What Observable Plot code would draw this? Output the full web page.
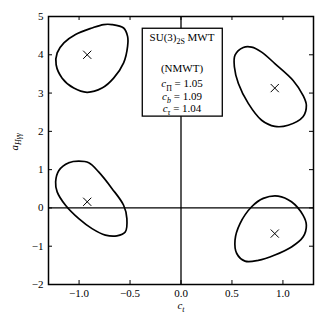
<!DOCTYPE html>
<html><head><meta charset="utf-8">
<script src="https://cdn.jsdelivr.net/npm/d3@7"></script>
<script src="https://cdn.jsdelivr.net/npm/@observablehq/plot@0.6"></script>
<style>body{margin:0;background:#fff}</style>
</head><body><div id="chart"></div>
<script>
// ---- data ----
const xTicks = [-1.0, -0.5, 0.0, 0.5, 1.0];
const yTicks = [-2, -1, 0, 1, 2, 3, 4, 5];
const contourTL = [[-0.678,4.79],[-0.563,4.70],[-0.524,4.48],[-0.524,4.22],[-0.563,3.79],[-0.661,3.39],[-0.775,3.13],[-0.922,3.02],[-1.052,3.13],[-1.166,3.39],[-1.225,3.74],[-1.215,4.05],[-1.149,4.31],[-1.035,4.53],[-0.873,4.70],[-0.759,4.79]];
const contourTR = [[0.611,4.19],[0.530,3.99],[0.524,3.68],[0.563,3.25],[0.660,2.73],[0.791,2.29],[0.921,2.13],[1.051,2.16],[1.197,2.38],[1.230,2.68],[1.197,2.94],[1.100,3.33],[0.921,3.77],[0.791,4.07],[0.693,4.20]];
const contourBL = [[-1.003,1.22],[-1.10,1.18],[-1.198,0.98],[-1.23,0.68],[-1.215,0.42],[-1.133,0.07],[-1.003,-0.28],[-0.873,-0.54],[-0.742,-0.71],[-0.629,-0.73],[-0.547,-0.63],[-0.531,-0.28],[-0.563,0.07],[-0.678,0.51],[-0.808,0.94],[-0.905,1.18]];
const contourBR = [[0.953,0.31],[1.084,0.16],[1.197,-0.19],[1.230,-0.45],[1.197,-0.76],[1.084,-1.02],[0.921,-1.23],[0.758,-1.37],[0.628,-1.39],[0.547,-1.19],[0.530,-0.84],[0.579,-0.41],[0.693,0.03],[0.807,0.25]];
const bestFit = [[-0.92,4.0],[0.92,3.13],[-0.92,0.16],[0.92,-0.67]];
const legendLines = ["SU(3)_{2S} MWT", "(NMWT)", "*c*_{Π} = 1.05", "*c*_{*b*} = 1.09", "*c*_{*τ*} = 1.04"];
const xLabel = "*c*_{*t*}";
const yLabel = "*a*_{*Hγγ*}";

// ---- layout ----
const W = 325, H = 325, mL = 48, mR = 12, mT = 16, mB = 41;
const frameW = W - mL - mR, frameH = H - mT - mB, tickLen = 4;
const legendBox = {x1: -0.375, x2: 0.41, y1: 2.385, y2: 4.68};
const legendX = 0.01;
const legendYs = [4.46, 3.63, 3.24, 2.92, 2.60];

const contours = [contourTL, contourTR, contourBL, contourBR]
  .flatMap((c, k) => c.map(([x, y]) => ({x, y, k})));
const fmt = (d, n) => d.toFixed(n).replace("-", "\u2212");

const chart = Plot.plot({
  width: W, height: H,
  marginLeft: mL, marginRight: mR, marginTop: mT, marginBottom: mB,
  style: {fontFamily: "'Liberation Serif', serif", fontSize: "11px", background: "#fff", color: "#000"},
  x: {domain: [-1.3, 1.3]},
  y: {domain: [-2, 5]},
  marks: [
    Plot.axisX(xTicks, {tickSize: 0, tickPadding: 5, tickFormat: d => fmt(d, 1), label: null, fontSize: 11}),
    Plot.axisY(yTicks, {tickSize: 0, tickPadding: 5, tickFormat: d => fmt(d, 0), label: null, fontSize: 11}),
    Plot.tickX(xTicks, {x: d => d, insetTop: frameH - tickLen, stroke: "#000", strokeWidth: 1}),
    Plot.tickX(xTicks, {x: d => d, insetBottom: frameH - tickLen, stroke: "#000", strokeWidth: 1}),
    Plot.tickY(yTicks, {y: d => d, insetRight: frameW - tickLen, stroke: "#000", strokeWidth: 1}),
    Plot.tickY(yTicks, {y: d => d, insetLeft: frameW - tickLen, stroke: "#000", strokeWidth: 1}),
    Plot.ruleX([0], {stroke: "#000", strokeWidth: 1.3}),
    Plot.ruleY([0], {stroke: "#000", strokeWidth: 1.3}),
    Plot.line(contours, {x: "x", y: "y", z: "k", curve: "catmull-rom-closed", stroke: "#000", strokeWidth: 1.7}),
    Plot.dot(bestFit, {x: d => d[0], y: d => d[1], symbol: "times", r: 3.8, stroke: "#000", strokeWidth: 1}),
    Plot.rect([legendBox], {x1: "x1", x2: "x2", y1: "y1", y2: "y2", fill: "#fff", stroke: "#000", strokeWidth: 1.3}),
    Plot.text(legendLines, {x: () => legendX, y: (d, i) => legendYs[i], text: d => d, fontSize: 11, fill: "#000", className: "rich"}),
    Plot.text([xLabel], {frameAnchor: "bottom", dy: 24, text: d => d, fontSize: 11, fill: "#000", className: "rich"}),
    Plot.text([yLabel], {frameAnchor: "left", dx: -34, rotate: -90, text: d => d, fontSize: 11, fill: "#000", className: "rich"}),
    Plot.frame({stroke: "#000", strokeWidth: 1.5})
  ]
});

function richify(el, fs) {
  const s = el.textContent;
  while (el.firstChild) el.removeChild(el.firstChild);
  let italic = false, sub = false, buf = "", shifted = false;
  const shift = 0.3 * fs, subSize = 0.72 * fs;
  const flush = () => {
    if (!buf) return;
    const t = document.createElementNS("http://www.w3.org/2000/svg", "tspan");
    t.textContent = buf;
    if (italic) t.setAttribute("font-style", "italic");
    if (sub && !shifted) { t.setAttribute("dy", shift); shifted = true; }
    if (!sub && shifted) { t.setAttribute("dy", -shift); shifted = false; }
    if (sub) t.setAttribute("font-size", subSize);
    el.appendChild(t); buf = "";
  };
  for (let i = 0; i < s.length; i++) {
    const ch = s[i];
    if (ch === "*") { flush(); italic = !italic; }
    else if (ch === "_" && s[i + 1] === "{") { flush(); sub = true; i++; }
    else if (ch === "}" && sub) { flush(); sub = false; }
    else buf += ch;
  }
  flush();
}
chart.querySelectorAll(".rich text").forEach(t => richify(t, 11));
document.getElementById("chart").appendChild(chart);
</script>
</body></html>
